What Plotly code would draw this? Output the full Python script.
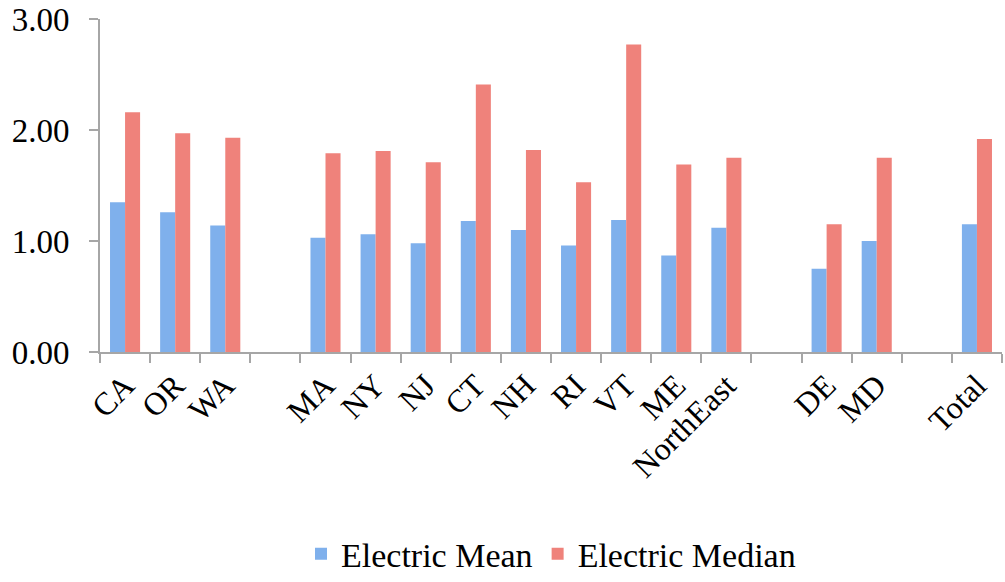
import plotly.graph_objects as go

categories = ["CA", "OR", "WA", " ", "MA", "NY", "NJ", "CT", "NH", "RI", "VT", "ME",
              "NorthEast", "  ", "DE", "MD", "   ", "Total"]
electric_mean = [1.35, 1.26, 1.14, None, 1.03, 1.06, 0.98, 1.18, 1.10, 0.96, 1.19, 0.87,
                 1.12, None, 0.75, 1.00, None, 1.15]
electric_median = [2.16, 1.97, 1.93, None, 1.79, 1.81, 1.71, 2.41, 1.82, 1.53, 2.77, 1.69,
                   1.75, None, 1.15, 1.75, None, 1.92]

font_family = "Liberation Serif"
axis_gray = "#a6a6a6"

fig = go.Figure()
fig.add_trace(go.Bar(x=categories, y=electric_mean, name="Electric Mean",
                     marker=dict(color="#7fb0ec", line=dict(width=0))))
fig.add_trace(go.Bar(x=categories, y=electric_median, name="Electric Median",
                     marker=dict(color="#ef827b", line=dict(width=0))))

fig.update_layout(
    width=1005, height=582,
    margin=dict(l=100, r=3, t=19, b=230, autoexpand=False),
    paper_bgcolor="white", plot_bgcolor="white",
    barmode="group", bargap=0.4, bargroupgap=0,
    font=dict(family=font_family, size=32, color="black"),
    legend=dict(orientation="h", x=0.5, xanchor="center", y=-0.52, yanchor="top",
                font=dict(family=font_family, size=34, color="black"),
                itemwidth=30, traceorder="normal"),
    showlegend=True,
)
fig.update_xaxes(
    type="category", showline=True, linecolor=axis_gray, linewidth=2,
    ticks="outside", tickson="boundaries", ticklen=9, tickwidth=2, tickcolor=axis_gray,
    tickangle=-45, tickfont=dict(family=font_family, size=32, color="black"),
    showgrid=False, zeroline=False, automargin=False,
)
fig.update_yaxes(
    range=[0, 3], tickvals=[0, 1, 2, 3], ticktext=["0.00", "1.00", "2.00", "3.00"],
    showline=True, linecolor=axis_gray, linewidth=2,
    ticks="outside", ticklen=9, tickwidth=2, tickcolor=axis_gray,
    tickfont=dict(family=font_family, size=33, color="black"), ticklabelstandoff=13,
    showgrid=False, zeroline=False, automargin=False,
)

fig.write_html("out.html")
